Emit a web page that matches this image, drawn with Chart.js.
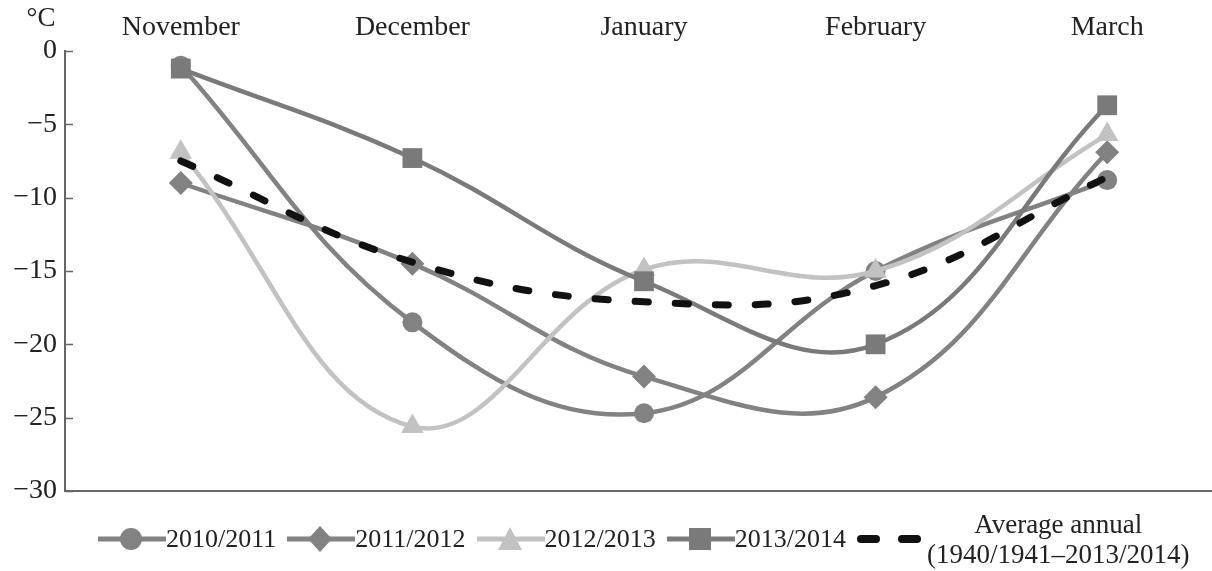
<!DOCTYPE html>
<html>
<head>
<meta charset="utf-8">
<script src="https://cdn.jsdelivr.net/npm/chart.js@4/dist/chart.umd.min.js"></script>
<style>
  html, body { margin: 0; padding: 0; background: #fff; overflow: hidden; }
  #wrap { position: relative; width: 1212px; height: 571px; overflow: hidden; }
  #mycanvas { position: absolute; left: 0; top: 0; }
  #legend {
    position: absolute; left: 98px; top: 508px; height: 62px; display: flex; align-items: center;
    font-family: "Liberation Serif", serif; font-size: 26px; color: #222;
  }
  .item { display: flex; align-items: center; margin-right: 11px; white-space: nowrap; }
  .item svg { display: block; }
  .avg { text-align: center; line-height: 30px; font-size: 27px; margin-left: 2px; }
</style>
</head>
<body>
<div id="wrap">
  <canvas id="mycanvas" width="1237" height="571"></canvas>
  <div id="legend"></div>
</div>
<script>
var months = ['November', 'December', 'January', 'February', 'March'];
var yTicks = [0, -5, -10, -15, -20, -25, -30];

var season1011 = [-1.0, -18.5, -24.7, -15.0, -8.8];
var season1112 = [-9.0, -14.5, -22.2, -23.6, -6.9];
var season1213 = [-6.9, -25.6, -14.9, -15.0, -5.7];
var season1314 = [-1.2, -7.3, -15.7, -20.0, -3.7];
var averageAnnual = [-7.5, -14.4, -17.1, -16.0, -8.6];

var grey = '#828282';
var darkGrey = '#7a7a7a';
var lightGrey = '#c2c2c2';

function series(label, data, color, style, radius, order) {
	return {
		label: label,
		data: data,
		borderColor: color,
		backgroundColor: color,
		pointBackgroundColor: color,
		pointBorderWidth: 0,
		pointStyle: style,
		pointRadius: radius,
		borderWidth: 4.5,
		tension: 0.4,
		order: order,
		clip: false
	};
}

var chartdata = {
	labels: months,
	datasets: [
		series('2010/2011', season1011, grey, 'circle', 10, 4),
		series('2011/2012', season1112, grey, 'rectRot', 12, 3),
		series('2012/2013', season1213, lightGrey, 'triangle', 13, 2),
		series('2013/2014', season1314, darkGrey, 'rect', 14, 1),
		{
			label: 'Average annual (1940/1941\u20132013/2014)',
			data: averageAnnual,
			borderColor: '#111',
			borderWidth: 7,
			borderDash: [13, 27],
			borderCapStyle: 'round',
			pointRadius: 0,
			tension: 0.4,
			order: 0,
			clip: false
		}
	]
};

// inward tick marks on the y axis plus the unit label
var axisExtras = {
	id: 'axisExtras',
	afterDraw: function(chart) {
		var ctx = chart.ctx;
		var y = chart.scales.y;
		ctx.save();
		ctx.strokeStyle = '#666';
		ctx.lineWidth = 1.5;
		yTicks.forEach(function(v) {
			var py = Math.round(y.getPixelForValue(v)) + 0.5;
			ctx.beginPath();
			ctx.moveTo(y.right, py);
			ctx.lineTo(y.right + 8, py);
			ctx.stroke();
		});
		ctx.fillStyle = '#222';
		ctx.font = '27px "Liberation Serif"';
		ctx.textAlign = 'center';
		ctx.textBaseline = 'middle';
		ctx.fillText('\u00b0C', 41, 19);
		ctx.restore();
	}
};

var ctx = document.getElementById('mycanvas');
Chart.defaults.font.family = '"Liberation Serif", serif';
Chart.defaults.font.size = 28;
Chart.defaults.color = '#222';

var lineGraph = new Chart(ctx, {
	type: 'line',
	data: chartdata,
	plugins: [axisExtras],
	options: {
		responsive: false,
		animation: false,
		devicePixelRatio: 1,
		layout: { padding: 0 },
		plugins: { legend: { display: false }, tooltip: { enabled: false } },
		scales: {
			x: {
				position: 'top',
				offset: true,
				grid: { display: false, drawTicks: false },
				border: { display: false },
				ticks: { padding: 7, maxRotation: 0 },
				afterFit: function(s) { s.height = 51; }
			},
			x2: {
				position: 'bottom',
				type: 'category',
				labels: months,
				offset: true,
				grid: { display: false, drawTicks: false },
				border: { display: true, color: '#666', width: 2 },
				ticks: { display: false },
				afterFit: function(s) { s.height = 80; }
			},
			y: {
				min: -30,
				max: 0,
				grid: { display: false, drawTicks: false },
				border: { display: true, color: '#666', width: 2 },
				ticks: {
					stepSize: 5,
					padding: 8,
					callback: function(v) { return v < 0 ? '\u2212' + Math.abs(v) : String(v); }
				},
				afterFit: function(s) { s.width = 65; }
			}
		}
	}
});

// html legend: line with marker, then label
function icon(kind, color) {
	var s = '<svg width="68" height="26" viewBox="0 0 68 26">';
	if (kind === 'dash') {
		s += '<line x1="4" y1="13" x2="19" y2="13" stroke="#111" stroke-width="8" stroke-linecap="round"/>';
		s += '<line x1="45" y1="13" x2="60" y2="13" stroke="#111" stroke-width="8" stroke-linecap="round"/>';
		return s + '</svg>';
	}
	s += '<line x1="0" y1="13" x2="68" y2="13" stroke="' + color + '" stroke-width="5" stroke-linecap="round"/>';
	if (kind === 'circle') s += '<circle cx="33" cy="13" r="11" fill="' + color + '"/>';
	if (kind === 'rectRot') s += '<polygon points="33,0 45,13 33,26 21,13" fill="' + color + '"/>';
	if (kind === 'triangle') s += '<polygon points="33,1 45,24 21,24" fill="' + color + '"/>';
	if (kind === 'rect') s += '<rect x="22" y="2" width="22" height="22" fill="' + color + '"/>';
	return s + '</svg>';
}
var legendItems = [
	['circle', grey, '2010/2011'],
	['rectRot', grey, '2011/2012'],
	['triangle', lightGrey, '2012/2013'],
	['rect', darkGrey, '2013/2014']
];
var html = '';
legendItems.forEach(function(it) {
	html += '<div class="item">' + icon(it[0], it[1]) + '<span>' + it[2] + '</span></div>';
});
html += '<div class="item">' + icon('dash') +
	'<div class="avg">Average annual<br>(1940/1941\u20132013/2014)</div></div>';
document.getElementById('legend').innerHTML = html;
</script>
</body>
</html>
